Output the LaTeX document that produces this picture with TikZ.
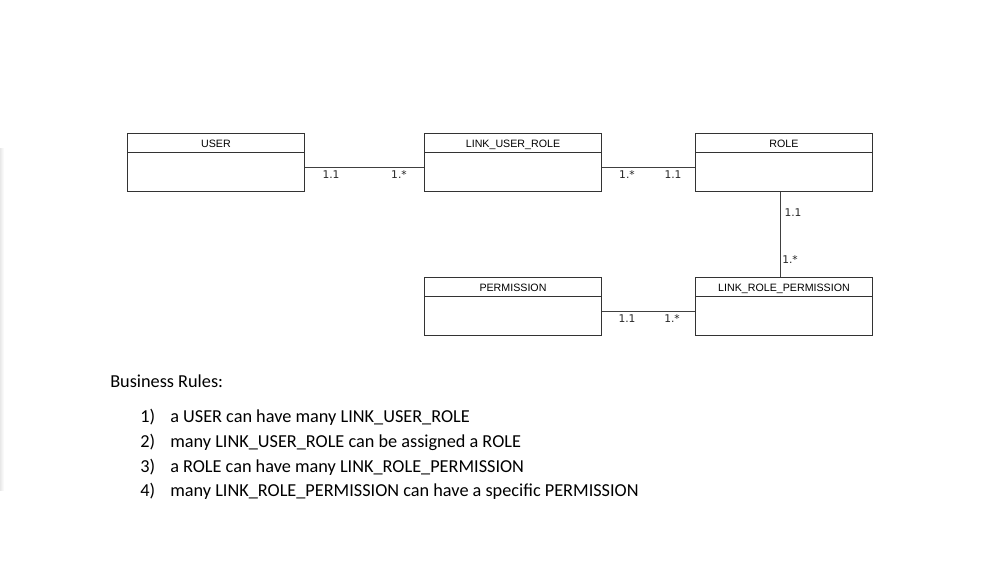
\documentclass[tikz,border=0pt]{standalone}
\usepackage{fontspec}
\setmainfont{Carlito}
\newfontfamily\hdrfont{Liberation Sans}
\newfontfamily\lblfont{DejaVu Sans}
\begin{document}
\begin{tikzpicture}[x=0.75pt,y=-0.75pt]
\tikzset{
  entity/.style={draw=black!80, line width=0.75pt, rectangle, minimum width=132.75pt, minimum height=43.5pt, anchor=north west, inner sep=0pt},
  hdr/.style={font=\hdrfont\fontsize{8}{9}\selectfont, text=black, inner sep=0pt, anchor=base},
  mult/.style={font=\lblfont\fontsize{8}{9}\selectfont, text=black!85, inner sep=0pt},
  conn/.style={draw=black!75, line width=0.75pt},
  rulefont/.style={font=\fontsize{13.7}{16}\selectfont, anchor=base west, inner sep=0pt}
}
\useasboundingbox[fill=white] (0,0) rectangle (997,569);
\shade[left color=black!9, right color=white] (0,148) rectangle (4,490);

% entities
\node[entity] (user) at (127,133) {};
\node[entity] (lur)  at (424,133) {};
\node[entity] (role) at (695,133) {};
\node[entity] (perm) at (424,277) {};
\node[entity] (lrp)  at (695,277) {};

\foreach \n/\t in {user/USER, lur/LINK\_USER\_ROLE, role/ROLE, perm/PERMISSION, lrp/LINK\_ROLE\_PERMISSION}{
  \draw[draw=black!80, line width=0.75pt] ([yshift=-14.5pt]\n.north west) -- ([yshift=-14.5pt]\n.north east);
  \node[hdr] (\n-h) at ([yshift=-11.1pt]\n.north) {\t};
}

% connectors
\draw[conn] ([yshift=-3.75pt]user.east) -- ([yshift=-3.75pt]lur.west);
\draw[conn] ([yshift=-3.75pt]lur.east) -- ([yshift=-3.75pt]role.west);
\draw[conn] ([xshift=-3pt]role.south) -- ([xshift=-3pt]lrp.north);
\draw[conn] ([yshift=-3.4pt]perm.east) -- ([yshift=-3.4pt]lrp.west);

% multiplicities
\node[mult] (m1) at (331,175) {1.1};
\node[mult] (m2) at (399,175) {1.*};
\node[mult] (m3) at (627,175) {1.*};
\node[mult] (m4) at (673,175) {1.1};
\node[mult] (m5) at (793,213) {1.1};
\node[mult] (m6) at (790,260) {1.*};
\node[mult] (m7) at (627,319) {1.1};
\node[mult] (m8) at (672,319) {1.*};

% business rules
\node[rulefont] (br) at (110,387) {Business Rules:};
\foreach \i/\y/\t in {1/422/{a USER can have many LINK\_USER\_ROLE},
                      2/447/{many LINK\_USER\_ROLE can be assigned a ROLE},
                      3/472/{a ROLE can have many LINK\_ROLE\_PERMISSION},
                      4/496/{many LINK\_ROLE\_PERMISSION can have a specific PERMISSION}}{
  \node[rulefont] (n\i) at (140,\y) {\i)};
  \node[rulefont] (r\i) at (170,\y) {\t};
}
\end{tikzpicture}
\end{document}
